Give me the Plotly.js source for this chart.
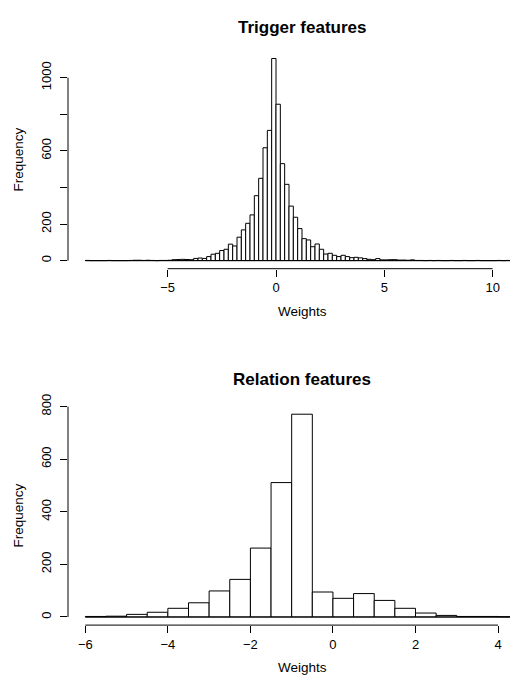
<!DOCTYPE html>
<html><head><meta charset="utf-8">
<script src="https://cdn.plot.ly/plotly-3.0.1.min.js"></script>
<style>html,body{margin:0;padding:0;background:#fff;overflow:hidden;width:510px;height:680px}</style>
</head><body><div id="chart" style="width:560px;height:680px"></div>
<script>
// ---- data ----
const trigTitle = "Trigger features";
const relTitle = "Relation features";
const xLabel = "Weights";
const yLabel = "Frequency";

const trigBreakStart = -8.8;
const trigBinWidth = 0.2;
const trigCounts = [
  1,0,0,0,0,1,0,0,0,0,
  1,2,2,1,2,1,0,1,1,2,
  5,6,7,6,5,12,14,12,22,35,
  40,55,62,90,80,128,168,204,250,355,
  450,617,712,1105,855,530,417,298,237,175,
  120,113,76,91,62,36,40,29,22,29,
  22,16,18,15,11,7,5,11,4,4,
  5,5,3,3,2,4,1,1,0,1,
  0,1,0,0,1,0,0,1,0,0,
  1,0,0,0,0,1,0,1,0,0
];

const relBreakStart = -6;
const relBinWidth = 0.5;
const relCounts = [2,3,10,18,33,54,99,143,262,511,771,95,71,89,63,33,15,6,2,2,1];

const trigXTicks = [-5,0,5,10];
const trigYTicks = [0,200,400,600,800,1000];
const trigYTickLabels = ["0","200","","600","","1000"];
const relXTicks = [-6,-4,-2,0,2,4];
const relYTicks = [0,200,400,600,800];
const relYTickLabels = ["0","200","400","600","800"];

// ---- helpers ----
function centers(start, w, n){ const c=[]; for(let i=0;i<n;i++) c.push(start + w*(i+0.5)); return c; }
function xr(start, w, n){ const a=start, b=start+w*n, e=0.04*(b-a); return [a-e, b+e]; }
function yr(counts){ const m=Math.max(...counts); return [-0.04*m, 1.04*m]; }

const FONT = "Liberation Sans, Arial, Helvetica, sans-serif";
const TICK = 13, LAB = 13.5, TIT = 17;
const H = 680;
const topDom = [1-268.7/H, 1-50.4/H];
const botDom = [1-625.1/H, 1-406.1/H];

const barStyle = {color:'#ffffff', line:{color:'#000000', width:1}};

const traces = [
  {type:'bar', x:centers(trigBreakStart,trigBinWidth,trigCounts.length), y:trigCounts,
   width:trigBinWidth, marker:barStyle, xaxis:'x', yaxis:'y', hoverinfo:'skip', showlegend:false},
  {type:'bar', x:centers(relBreakStart,relBinWidth,relCounts.length), y:relCounts,
   width:relBinWidth, marker:barStyle, xaxis:'x2', yaxis:'y2', hoverinfo:'skip', showlegend:false}
];

function xaxisDef(ticks, range, anchor){
  return {range:range, tickvals:ticks, ticktext:ticks.map(v=>v<0?'\u2212'+Math.abs(v):String(v)),
    showgrid:false, zeroline:false, showline:false, ticks:'outside', ticklen:7, tickwidth:1,
    tickcolor:'#000', anchor:anchor, domain:[0,1], tickfont:{family:FONT,size:TICK,color:'#000'}, fixedrange:true};
}
function yaxisDef(ticks, labels, range, dom, anchor){
  return {range:range, tickvals:ticks, ticktext:labels, tickangle:-90, ticklabelstandoff:4,
    showgrid:false, zeroline:false, showline:false, ticks:'outside', ticklen:7, tickwidth:1,
    tickcolor:'#000', anchor:anchor, domain:dom, tickfont:{family:FONT,size:TICK,color:'#000'}, fixedrange:true};
}

const trigEnd = trigBreakStart + trigBinWidth*trigCounts.length;
const relEnd = relBreakStart + relBinWidth*relCounts.length;

const shapes = [
  {type:'line', xref:'x', yref:'y domain', x0:trigXTicks[0], x1:trigXTicks[trigXTicks.length-1], y0:0, y1:0, line:{color:'#000',width:1}},
  {type:'line', xref:'x domain', yref:'y', x0:0, x1:0, y0:trigYTicks[0], y1:trigYTicks[trigYTicks.length-1], line:{color:'#000',width:1}},
  {type:'line', xref:'x2', yref:'y2 domain', x0:relXTicks[0], x1:relXTicks[relXTicks.length-1], y0:0, y1:0, line:{color:'#000',width:1}},
  {type:'line', xref:'x2 domain', yref:'y2', x0:0, x1:0, y0:relYTicks[0], y1:relYTicks[relYTicks.length-1], line:{color:'#000',width:1}},
  {type:'line', xref:'x', yref:'y', x0:trigBreakStart, x1:trigEnd, y0:0, y1:0, line:{color:'#000',width:1}},
  {type:'line', xref:'x2', yref:'y2', x0:relBreakStart, x1:relEnd, y0:0, y1:0, line:{color:'#000',width:1}}
];

const plotW = 468, L = 68;
const px = p => (p - L)/plotW;
const py = p => 1 - p/H;

const annotations = [
  {text:'<b>'+trigTitle+'</b>', xref:'paper', yref:'paper', x:0.5, y:py(28), xanchor:'center', yanchor:'middle', showarrow:false, font:{family:FONT,size:TIT,color:'#000'}},
  {text:'<b>'+relTitle+'</b>', xref:'paper', yref:'paper', x:0.5, y:py(379), xanchor:'center', yanchor:'middle', showarrow:false, font:{family:FONT,size:TIT,color:'#000'}},
  {text:xLabel, xref:'paper', yref:'paper', x:0.5, y:py(312), xanchor:'center', yanchor:'middle', showarrow:false, font:{family:FONT,size:LAB,color:'#000'}},
  {text:xLabel, xref:'paper', yref:'paper', x:0.5, y:py(667), xanchor:'center', yanchor:'middle', showarrow:false, font:{family:FONT,size:LAB,color:'#000'}},
  {text:yLabel, xref:'paper', yref:'paper', x:px(19), y:(topDom[0]+topDom[1])/2, xanchor:'center', yanchor:'middle', textangle:-90, showarrow:false, font:{family:FONT,size:LAB,color:'#000'}},
  {text:yLabel, xref:'paper', yref:'paper', x:px(19), y:(botDom[0]+botDom[1])/2, xanchor:'center', yanchor:'middle', textangle:-90, showarrow:false, font:{family:FONT,size:LAB,color:'#000'}}
];

const layout = {
  width:560, height:680,
  margin:{l:L, r:560-L-plotW, t:0, b:0},
  paper_bgcolor:'#fff', plot_bgcolor:'#fff',
  showlegend:false, hovermode:false, bargap:0,
  xaxis:xaxisDef(trigXTicks, xr(trigBreakStart,trigBinWidth,trigCounts.length), 'y'),
  yaxis:yaxisDef(trigYTicks, trigYTickLabels, yr(trigCounts), topDom, 'x'),
  xaxis2:xaxisDef(relXTicks, xr(relBreakStart,relBinWidth,relCounts.length), 'y2'),
  yaxis2:yaxisDef(relYTicks, relYTickLabels, yr(relCounts), botDom, 'x2'),
  shapes:shapes,
  annotations:annotations
};

Plotly.newPlot('chart', traces, layout, {displayModeBar:false, staticPlot:true});
</script>
</body></html>
